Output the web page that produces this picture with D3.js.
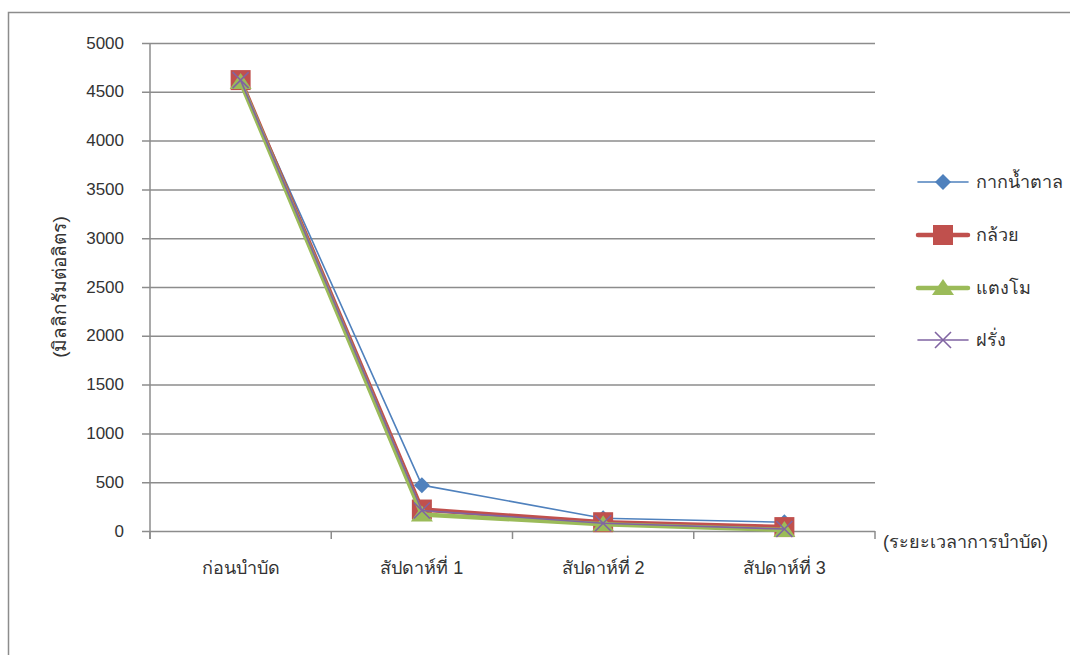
<!DOCTYPE html>
<html>
<head>
<meta charset="utf-8">
<script src="https://cdn.jsdelivr.net/npm/d3@7"></script>
<style>
  html, body { margin: 0; padding: 0; background: #fff; }
  svg text { font-family: "Liberation Sans", "Noto Sans", "DejaVu Sans", sans-serif; fill: #333; }
</style>
</head>
<body>
<svg id="chart" width="1070" height="655"></svg>
<script>
// Periods of treatment (x categories)
const categories = ["ก่อนบำบัด", "สัปดาห์ที่ 1", "สัปดาห์ที่ 2", "สัปดาห์ที่ 3"];
// Y tick values (มิลลิกรัมต่อลิตร)
const yTicks = [0, 500, 1000, 1500, 2000, 2500, 3000, 3500, 4000, 4500, 5000];
// Series names
const seriesNames = ["กากน้ำตาล", "กล้วย", "แตงโม", "ฝรั่ง"];
// Series values, one per category
const molasses = [4610, 470, 130, 90];
const banana = [4620, 220, 90, 40];
const watermelon = [4600, 170, 70, 10];
const guava = [4620, 210, 80, 20];

const seriesValues = [molasses, banana, watermelon, guava];
const colors = ["#4F81BD", "#C0504D", "#9BBB59", "#8064A2"];
const widths = [1.6, 4.5, 4.5, 1.6];
const markers = ["diamond", "square", "triangle", "cross"];

const svg = d3.select("#chart");

// Outer frame of the chart area
svg.append("path")
  .attr("d", "M8.5,655 L8.5,12.5 L1070,12.5")
  .attr("fill", "none").attr("stroke", "#8c8c8c").attr("stroke-width", 1.5);

const plot = { left: 150, right: 875, top: 43, bottom: 531 };

const x = d3.scaleBand().domain(categories).range([plot.left, plot.right]);
const y = d3.scaleLinear().domain([0, 5000]).range([plot.bottom, plot.top]);

// Horizontal gridlines with tick labels
const yAxis = d3.axisLeft(y).tickValues(yTicks).tickSize(0).tickFormat(d3.format("d")).tickPadding(0);
const gy = svg.append("g").attr("transform", `translate(${plot.left - 8},0)`).call(yAxis);
gy.select(".domain").remove();
gy.selectAll(".tick line")
  .attr("x1", 0).attr("x2", plot.right - plot.left + 8)
  .attr("stroke", "#8c8c8c").attr("stroke-width", 1.5);
gy.selectAll(".tick text").attr("font-size", 17).attr("fill", "#333").attr("x", -18).attr("dy", "0.3em");

// Vertical axis line
svg.append("line")
  .attr("x1", plot.left).attr("x2", plot.left)
  .attr("y1", plot.top).attr("y2", plot.bottom + 8)
  .attr("stroke", "#8c8c8c").attr("stroke-width", 1.5);

// X axis with category boundaries as ticks
const boundaries = categories.map(c => x(c)).concat([plot.right]);
svg.append("g").selectAll("line").data(boundaries).join("line")
  .attr("x1", d => d).attr("x2", d => d)
  .attr("y1", plot.bottom).attr("y2", plot.bottom + 8)
  .attr("stroke", "#8c8c8c").attr("stroke-width", 1.5);

svg.append("g").selectAll("text").data(categories).join("text")
  .attr("x", d => x(d) + x.bandwidth() / 2)
  .attr("y", 574)
  .attr("text-anchor", "middle")
  .attr("font-size", 18)
  .text(d => d);

// Axis titles
svg.append("text")
  .attr("x", 883).attr("y", 548)
  .attr("font-size", 18)
  .text("(ระยะเวลาการบำบัด)");

svg.append("text")
  .attr("transform", `translate(66,${(plot.top + plot.bottom) / 2}) rotate(-90)`)
  .attr("text-anchor", "middle")
  .attr("font-size", 19)
  .text("(มิลลิกรัมต่อลิตร)");

// Marker shapes
function marker(sel, type, color) {
  if (type === "diamond") {
    sel.append("path").attr("d", "M0,-8 L8,0 L0,8 L-8,0 Z").attr("fill", color);
  } else if (type === "square") {
    sel.append("rect").attr("x", -10).attr("y", -10).attr("width", 20).attr("height", 20).attr("fill", color);
  } else if (type === "triangle") {
    sel.append("path").attr("d", "M0,-9 L11,7 L-11,7 Z").attr("fill", color);
  } else {
    sel.append("path").attr("d", "M-8,-8 L8,8 M8,-8 L-8,8").attr("stroke", color).attr("stroke-width", 1.6).attr("fill", "none");
  }
}

const cx = c => x(c) + x.bandwidth() / 2;
const line = d3.line().x((d, i) => cx(categories[i])).y(d => y(d));

seriesValues.forEach((vals, s) => {
  const g = svg.append("g");
  g.append("path").datum(vals)
    .attr("d", line)
    .attr("fill", "none")
    .attr("stroke", colors[s])
    .attr("stroke-width", widths[s])
    .attr("stroke-linejoin", "round")
    .attr("stroke-linecap", "round");
  vals.forEach((v, i) => {
    const m = g.append("g").attr("transform", `translate(${cx(categories[i])},${y(v)})`);
    marker(m, markers[s], colors[s]);
  });
});

// Legend
const legendY = [182, 235, 288, 340];
seriesNames.forEach((name, s) => {
  const g = svg.append("g").attr("transform", `translate(918,${legendY[s]})`);
  g.append("line").attr("x1", 0).attr("x2", 50).attr("y1", 0).attr("y2", 0)
    .attr("stroke", colors[s]).attr("stroke-width", widths[s]).attr("stroke-linecap", "round");
  const m = g.append("g").attr("transform", "translate(25,0)");
  marker(m, markers[s], colors[s]);
  g.append("text").attr("x", 58).attr("y", 6).attr("font-size", 18).text(name);
});
</script>
</body>
</html>
